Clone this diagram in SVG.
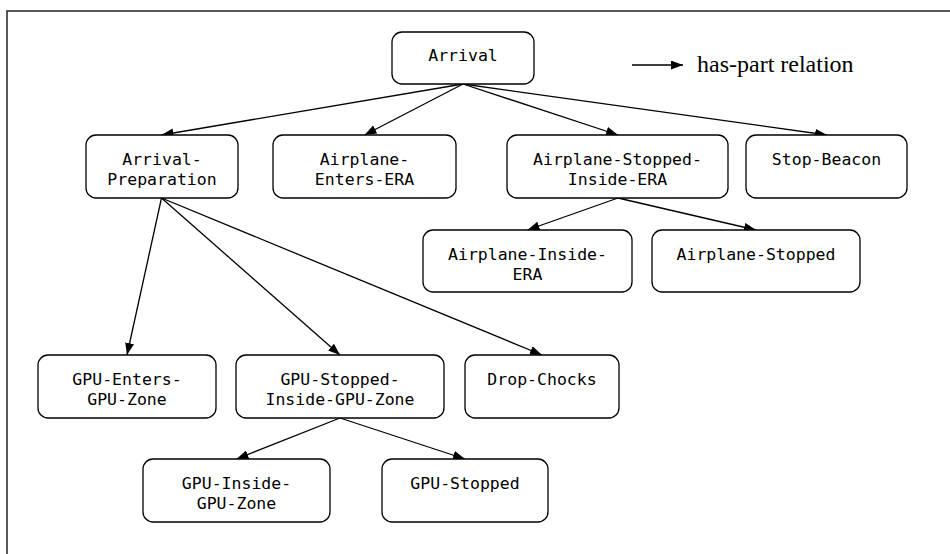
<svg xmlns="http://www.w3.org/2000/svg" width="950" height="554" viewBox="0 0 950 554">
<style>
.box{fill:#fff;stroke:#000;stroke-width:1.3}
.lbl{font-family:"DejaVu Sans Mono",monospace;font-size:16.5px;fill:#000;text-anchor:middle}
.edge{stroke:#000;stroke-width:1.3;fill:none;marker-end:url(#ah)}
.legend{font-family:"Liberation Serif",serif;font-size:24px;fill:#000}
</style>
<defs>
<marker id="ah" markerUnits="userSpaceOnUse" markerWidth="12" markerHeight="10" refX="12" refY="4.5" orient="auto">
<path d="M0,0 L12,4.5 L0,9 z" fill="#000"/>
</marker>
</defs>
<rect width="950" height="554" fill="#fff"/>
<path d="M7,554 V11 H950" fill="none" stroke="#222" stroke-width="1.5"/>
<g id="legend">
<line class="edge" x1="632" y1="65" x2="683" y2="65"/>
<text class="legend" x="697" y="72">has-part relation</text>
</g>
<g id="connectors">
<line class="edge" x1="463" y1="84" x2="161.5" y2="135"/>
<line class="edge" x1="463" y1="84" x2="364.5" y2="135"/>
<line class="edge" x1="463" y1="84" x2="618" y2="135"/>
<line class="edge" x1="463" y1="84" x2="827" y2="135"/>
<line class="edge" x1="618" y1="198" x2="527.5" y2="230"/>
<line class="edge" x1="618" y1="198" x2="756" y2="230"/>
<line class="edge" x1="161.5" y1="198" x2="127" y2="355"/>
<line class="edge" x1="161.5" y1="198" x2="340" y2="355"/>
<line class="edge" x1="161.5" y1="198" x2="542" y2="355"/>
<line class="edge" x1="340" y1="418" x2="236.5" y2="459"/>
<line class="edge" x1="340" y1="418" x2="465" y2="459"/>
</g>
<g id="arrival">
<rect class="box" x="392" y="32" width="142" height="52" rx="10"/>
<text class="lbl" x="463" y="61">Arrival</text>
</g>
<g id="arrival-preparation">
<rect class="box" x="86" y="135" width="152" height="63" rx="10"/>
<text class="lbl" x="162" y="165">Arrival-</text>
<text class="lbl" x="162" y="185">Preparation</text>
</g>
<g id="airplane-enters-era">
<rect class="box" x="273" y="135" width="183" height="63" rx="10"/>
<text class="lbl" x="364.5" y="165">Airplane-</text>
<text class="lbl" x="364.5" y="185">Enters-ERA</text>
</g>
<g id="airplane-stopped-inside-era">
<rect class="box" x="507" y="135" width="221" height="63" rx="10"/>
<text class="lbl" x="617.5" y="165">Airplane-Stopped-</text>
<text class="lbl" x="617.5" y="185">Inside-ERA</text>
</g>
<g id="stop-beacon">
<rect class="box" x="746" y="135" width="161" height="63" rx="10"/>
<text class="lbl" x="826.5" y="165">Stop-Beacon</text>
</g>
<g id="airplane-inside-era">
<rect class="box" x="423" y="230" width="209" height="62" rx="10"/>
<text class="lbl" x="527.5" y="260">Airplane-Inside-</text>
<text class="lbl" x="527.5" y="280">ERA</text>
</g>
<g id="airplane-stopped">
<rect class="box" x="652" y="230" width="208" height="62" rx="10"/>
<text class="lbl" x="756" y="260">Airplane-Stopped</text>
</g>
<g id="gpu-enters-gpu-zone">
<rect class="box" x="38" y="355" width="178" height="63" rx="10"/>
<text class="lbl" x="127" y="385">GPU-Enters-</text>
<text class="lbl" x="127" y="405">GPU-Zone</text>
</g>
<g id="gpu-stopped-inside-gpu-zone">
<rect class="box" x="236" y="355" width="208" height="63" rx="10"/>
<text class="lbl" x="340" y="385">GPU-Stopped-</text>
<text class="lbl" x="340" y="405">Inside-GPU-Zone</text>
</g>
<g id="drop-chocks">
<rect class="box" x="465" y="355" width="154" height="63" rx="10"/>
<text class="lbl" x="542" y="385">Drop-Chocks</text>
</g>
<g id="gpu-inside-gpu-zone">
<rect class="box" x="143" y="459" width="187" height="63" rx="10"/>
<text class="lbl" x="236.5" y="489">GPU-Inside-</text>
<text class="lbl" x="236.5" y="509">GPU-Zone</text>
</g>
<g id="gpu-stopped">
<rect class="box" x="382" y="459" width="166" height="63" rx="10"/>
<text class="lbl" x="465" y="489">GPU-Stopped</text>
</g>
</svg>
